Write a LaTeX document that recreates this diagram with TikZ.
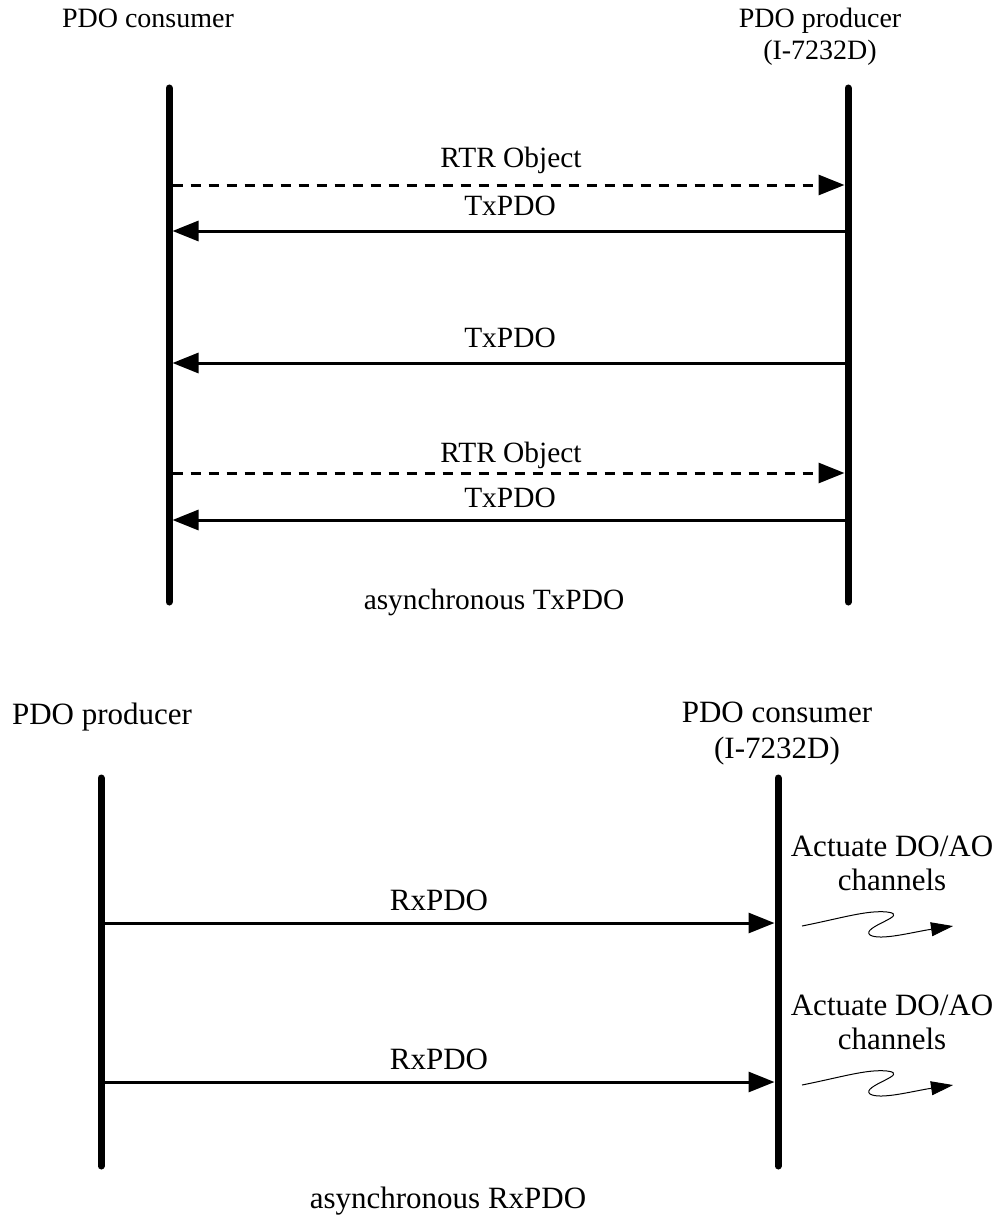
\documentclass[tikz,border=0pt]{standalone}
\usepackage{fontspec}
\setmainfont{Liberation Serif}
\usetikzlibrary{arrows.meta}

\begin{document}
\begin{tikzpicture}[
                x=0.5pt, y=-0.5pt,
                every node/.style={font=\fontsize{14}{17}\selectfont, inner sep=0pt, anchor=base},
                midtext/.style={font=\fontsize{14.7}{18}\selectfont},
                bigtext/.style={font=\fontsize{15.5}{19}\selectfont},
                lifeline/.style={line width=3.5pt, line cap=round},
                msg/.style={line width=1.5pt, -{Triangle[length=13pt, width=10pt]}},
                rtr/.style={msg, dash pattern=on 5pt off 4pt},
                actuate/.style={line width=0.5pt, -{Triangle[length=11pt, width=7pt]}}
            ]
            \useasboundingbox (0,0) rectangle (1002,1220);

            % asynchronous TxPDO
            \node (consA) at (148,28) {PDO consumer};
            \node (prodA) at (820,28) {PDO producer};
            \node (prodAid) at (820,60) {(I-7232D)};
            \coordinate (cTop) at (169,88);
            \coordinate (cBot) at (169,602);
            \coordinate (pTop) at (848,88);
            \coordinate (pBot) at (848,602);
            \draw[lifeline] (cTop) -- (cBot);
            \draw[lifeline] (pTop) -- (pBot);

            \coordinate (c1) at (172.5,185); \coordinate (p1) at (844.5,185);
            \coordinate (c2) at (172.5,231); \coordinate (p2) at (844.5,231);
            \coordinate (c3) at (172.5,363); \coordinate (p3) at (844.5,363);
            \coordinate (c4) at (172.5,473); \coordinate (p4) at (844.5,473);
            \coordinate (c5) at (172.5,520); \coordinate (p5) at (844.5,520);

            \draw[rtr] (c1) -- (p1);
            \draw[msg] (p2) -- (c2);
            \draw[msg] (p3) -- (c3);
            \draw[rtr] (c4) -- (p4);
            \draw[msg] (p5) -- (c5);

            \node[midtext] (rtrA) at (511,168) {RTR Object};
            \node[midtext] (txA) at (510,215) {TxPDO};
            \node[midtext] (txB) at (510,347) {TxPDO};
            \node[midtext] (rtrB) at (511,462) {RTR Object};
            \node[midtext] (txC) at (510,507) {TxPDO};
            \node[midtext] (titleA) at (494,609) {asynchronous TxPDO};

            % asynchronous RxPDO
            \node[bigtext] (prodB) at (102,724) {PDO producer};
            \node[bigtext] (consB) at (777,722) {PDO consumer};
            \node[bigtext] (consBid) at (777,758) {(I-7232D)};
            \coordinate (qTop) at (101,778);
            \coordinate (qBot) at (101,1166);
            \coordinate (dTop) at (778,778);
            \coordinate (dBot) at (778,1166);
            \draw[lifeline] (qTop) -- (qBot);
            \draw[lifeline] (dTop) -- (dBot);

            \coordinate (q1) at (104.5,923);  \coordinate (d1) at (774.5,923);
            \coordinate (q2) at (104.5,1082); \coordinate (d2) at (774.5,1082);
            \draw[msg] (q1) -- (d1);
            \draw[msg] (q2) -- (d2);

            \node[bigtext] (rxA) at (439,910) {RxPDO};
            \node[bigtext] (rxB) at (439,1069) {RxPDO};

            \node[bigtext] (actA) at (892,856) {Actuate DO/AO};
            \node[bigtext] (chA) at (892,890) {channels};
            \node[bigtext] (actB) at (892,1015) {Actuate DO/AO};
            \node[bigtext] (chB) at (892,1049) {channels};
            \node[bigtext] (titleB) at (448,1208) {asynchronous RxPDO};

            \coordinate (sA) at (802,926); \coordinate (eA) at (953,926);
            \coordinate (sB) at (802,1085); \coordinate (eB) at (953,1085);
            \draw[actuate] (sA) .. controls +(40,-8) and +(-20,-2) .. ++(85,-14)
                .. controls +(25,3) and +(-10,-8) .. ++(-17,23)
                .. controls +(10,6) and +(-40,6) .. (eA);
            \draw[actuate] (sB) .. controls +(40,-8) and +(-20,-2) .. ++(85,-14)
                .. controls +(25,3) and +(-10,-8) .. ++(-17,23)
                .. controls +(10,6) and +(-40,6) .. (eB);
        \end{tikzpicture}
\end{document}
